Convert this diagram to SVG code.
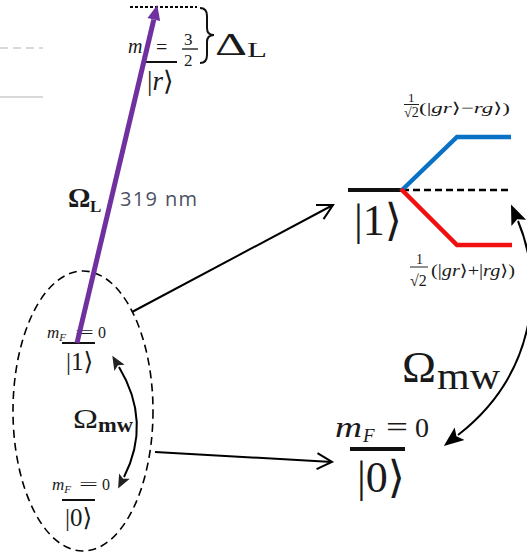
<svg xmlns="http://www.w3.org/2000/svg" width="527" height="555" viewBox="0 0 527 555">
<style>
.m{font-family:"Liberation Serif","DejaVu Serif",serif;fill:#1a1a1a}
.i{font-style:italic}
.lvl{stroke:#111;stroke-width:2}
.conn{stroke:#000;stroke-width:2;fill:none}
</style>
<defs>
<marker id="open" markerUnits="userSpaceOnUse" markerWidth="20" markerHeight="20" viewBox="-18 -10 20 20" refX="0" refY="0" orient="auto" overflow="visible">
<path d="M-15,-8 L0,0 L-15,8" fill="none" stroke="#000" stroke-width="2"/>
</marker>
<marker id="big" markerUnits="userSpaceOnUse" markerWidth="22" markerHeight="22" viewBox="-2 -10 22 20" refX="0" refY="0" orient="auto-start-reverse" overflow="visible">
<path d="M-2,-8 L18,0 L-2,8 L2,0 Z" fill="#000"/>
</marker>
<marker id="small" markerUnits="userSpaceOnUse" markerWidth="16" markerHeight="16" viewBox="-2 -8 16 16" refX="0" refY="0" orient="auto-start-reverse" overflow="visible">
<path d="M-1,-6 L13,0 L-1,6 L2,0 Z" fill="#222"/>
</marker>
<marker id="purp" markerUnits="userSpaceOnUse" markerWidth="16" markerHeight="16" viewBox="0 -8 16 16" refX="0" refY="0" orient="auto" overflow="visible">
<path d="M0,-6.5 L15,0 L0,6.5 Z" fill="#7030a0"/>
</marker>
</defs>

<g id="faint-lines">
<line x1="0" y1="48" x2="43" y2="48" stroke="#b4b4b4" stroke-width="1.2" stroke-dasharray="8 5"/>
<line x1="0" y1="97" x2="43" y2="97" stroke="#b4b4b4" stroke-width="1.2"/>
</g>

<g id="node-r">
<line x1="130" y1="7" x2="197" y2="7" stroke="#000" stroke-width="2.2" stroke-dasharray="3 2"/>
<text class="m i" x="128" y="53" font-size="20">m<tspan font-size="13" dy="4">J</tspan></text>
<text class="m" x="156" y="54" font-size="20">=</text>
<text class="m" x="184" y="45" font-size="17">3</text>
<line x1="182" y1="49" x2="198" y2="49" stroke="#111" stroke-width="1.3"/>
<text class="m" x="184" y="66" font-size="17">2</text>
<line class="lvl" x1="145" y1="62" x2="177" y2="62"/>
<text class="m" x="147" y="90" font-size="27">|<tspan class="i">r</tspan>⟩</text>
<path d="M200,8 Q207,8 207,16 L207,28 Q207,35 214,35 Q207,35 207,42 L207,55 Q207,63 200,63" fill="none" stroke="#111" stroke-width="2"/>
<text class="m" x="215" y="55" font-size="32" textLength="32" lengthAdjust="spacingAndGlyphs">Δ</text>
<text class="m" x="247" y="57" font-size="20" textLength="20" lengthAdjust="spacingAndGlyphs">L</text>
</g>

<g id="laser-label">
<text class="m" x="68" y="207" font-size="28" font-weight="bold">Ω</text>
<text class="m" x="90" y="212" font-size="17" font-weight="bold">L</text>
<text x="120" y="206" font-family="'Open Sans','Noto Sans',sans-serif" font-size="20" fill="#4b5263" textLength="77">319 nm</text>
</g>

<g id="node-ellipse">
<ellipse cx="83" cy="411" rx="70" ry="140" fill="none" stroke="#000" stroke-width="1.6" stroke-dasharray="8 5"/>
<text class="m i" x="47" y="338" font-size="17">m<tspan font-size="11" dy="3">F</tspan></text>
<text class="m" x="75" y="338" font-size="17" textLength="19" lengthAdjust="spacingAndGlyphs">=</text>
<text class="m" x="98" y="338" font-size="16">0</text>
<line class="lvl" x1="62" y1="343" x2="95" y2="343"/>
<text class="m" x="66" y="370" font-size="25">|1⟩</text>
<text class="m" x="73" y="428" font-size="27" textLength="25" lengthAdjust="spacingAndGlyphs">Ω</text>
<text class="m" x="98" y="432" font-size="20" font-weight="bold" textLength="35" lengthAdjust="spacingAndGlyphs">mw</text>
<text class="m i" x="52" y="490" font-size="17">m<tspan font-size="11" dy="3">F</tspan></text>
<text class="m" x="79" y="490" font-size="17" textLength="19" lengthAdjust="spacingAndGlyphs">=</text>
<text class="m" x="102" y="490" font-size="16">0</text>
<line class="lvl" x1="62" y1="500" x2="95" y2="500"/>
<text class="m" x="65" y="526" font-size="25">|0⟩</text>
</g>

<g id="node-right-1">
<line x1="348" y1="190" x2="402" y2="190" stroke="#111" stroke-width="4"/>
<line x1="402" y1="190" x2="510" y2="190" stroke="#000" stroke-width="2.5" stroke-dasharray="7 4"/>
<polyline points="401,191 457,137 511,137" fill="none" stroke="#0a72c4" stroke-width="4.5"/>
<polyline points="401,189 457,245 512,245" fill="none" stroke="#f01010" stroke-width="4.5"/>
<text class="m" x="354" y="235" font-size="44" fill="#222">|1⟩</text>
</g>

<g id="label-minus">
<text class="m" x="408" y="102" font-size="13">1</text>
<line x1="404" y1="104.5" x2="419" y2="104.5" stroke="#222" stroke-width="1"/>
<text class="m" x="404" y="117" font-size="14">√2</text>
<text class="m" x="419" y="113" font-size="15" textLength="91" lengthAdjust="spacingAndGlyphs">(|<tspan class="i">gr</tspan>⟩−<tspan class="i">rg</tspan>⟩)</text>
</g>

<g id="label-plus">
<text class="m" x="416" y="264" font-size="14">1</text>
<line x1="410" y1="267" x2="428" y2="267" stroke="#222" stroke-width="1"/>
<text class="m" x="410" y="286" font-size="16">√2</text>
<text class="m" x="431" y="276" font-size="16" textLength="84" lengthAdjust="spacingAndGlyphs">(|<tspan class="i">gr</tspan>⟩+|<tspan class="i">rg</tspan>⟩)</text>
</g>

<g id="label-mw-right">
<text class="m" x="402" y="382" font-size="44" textLength="34" lengthAdjust="spacingAndGlyphs">Ω</text>
<text class="m" x="437" y="389" font-size="38" textLength="63" lengthAdjust="spacingAndGlyphs">mw</text>
</g>

<g id="node-right-0">
<text class="m i" x="335" y="437" font-size="29" textLength="27" lengthAdjust="spacingAndGlyphs">m</text>
<text class="m i" x="363" y="442" font-size="19">F</text>
<text class="m" x="386" y="437" font-size="29" textLength="22" lengthAdjust="spacingAndGlyphs">=</text>
<text class="m" x="415" y="437" font-size="28">0</text>
<line x1="350" y1="449" x2="405" y2="449" stroke="#111" stroke-width="4"/>
<text class="m" x="357" y="492" font-size="44" fill="#222">|0⟩</text>
</g>

<g id="connectors">
<line x1="77" y1="343" x2="153.8" y2="19.6" stroke="#7030a0" stroke-width="5" marker-end="url(#purp)"/>
<line class="conn" x1="132" y1="312" x2="333" y2="205" marker-end="url(#open)"/>
<line class="conn" x1="155" y1="452" x2="332" y2="462" marker-end="url(#open)"/>
<path class="conn" d="M119,367 Q152,422 124,477" stroke="#222" stroke-width="3" marker-start="url(#small)" marker-end="url(#small)"/>
<path class="conn" d="M518,221 C545,285 535,375 458,435" stroke-width="4" marker-start="url(#big)" marker-end="url(#big)"/>
</g>
</svg>
